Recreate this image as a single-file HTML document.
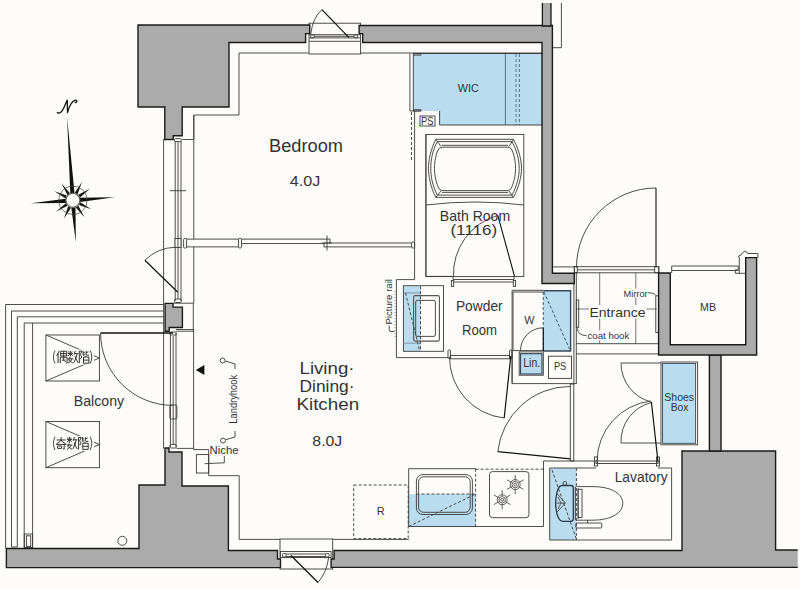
<!DOCTYPE html>
<html><head><meta charset="utf-8">
<style>
html,body{margin:0;padding:0;background:#fdfcfa;width:800px;height:589px;overflow:hidden}
svg{display:block}
text{font-family:"Liberation Sans",sans-serif;fill:#333}
</style></head><body>
<svg width="800" height="589" viewBox="0 0 800 589">
<rect width="800" height="589" fill="#fdfcfa"/>

<!-- blue fills -->
<g fill="#b9dcef" stroke="none">
<path d="M413,53.5 H542 V125 H439.6 V111 H413 Z"/>
</g>

<!-- thin lines -->
<g fill="none" stroke="#3a3a3a" stroke-width="0.9">
<!-- bedroom inner boundary -->
<path d="M239,53 V115 H193.8 V139"/>
<path d="M239,53 H308.7 M360.6,53 H542"/>
<!-- top window -->
<rect x="309" y="23.2" width="51.6" height="30.8"/>
<path d="M309.2,34.7 H360.1 M314.3,36.3 H354 M309.2,37.9 H360.1 M309.2,41.3 H360.1"/>
<rect x="310.7" y="34.9" width="3.6" height="2.9" rx="0.8"/>
<rect x="354" y="34.9" width="3.6" height="2.9" rx="0.8"/>
<path d="M310.7,34.1 Q313,17 321.9,9.7"/>
<!-- left bedroom window -->
<path d="M163.6,139 V303.3 M193.8,115 V303.3"/>
<path d="M175.2,141 V301 M181,141 V301"/>
<rect x="174.5" y="138.6" width="6.8" height="3" rx="1.2"/>
<rect x="174.5" y="299" width="6.8" height="3.5" rx="1.2"/>
<path d="M182.2,139.5 H193.6 M173,303.2 H193.3 M176.3,331.2 H193.3 M193.3,303.2 V331.2"/>
<path d="M170,190.7 H186"/>
<!-- WIC -->
<path d="M409.9,53.5 V111 H420.8 M413.3,53.5 V111"/>
<path d="M505.4,53.5 V125" stroke="#4a6a80"/>
<path d="M516,54 V125 M519.4,54 V125" stroke="#4a6a80" stroke-dasharray="3,2"/>
<path d="M413.3,53.8 H421 V55.2 H413.3 M413.3,109.6 H421 V111 H413.3" stroke-width="0.8"/>
<path d="M413,53.5 H542 M439.6,125 H542 M439.6,111 V125" stroke="#333"/>
<path d="M411.5,112 V162" stroke-dasharray="3,2"/>
<rect x="420" y="116" width="15" height="10"/>
<!-- thin outline right of top wall -->
<path d="M561.4,3 V47.7 H552.4"/>
</g>
<g fill="none" stroke="#111" stroke-width="1.2">
<path d="M321.9,9.7 L349,37.7"/>
<path d="M144.9,260.2 L177.8,292.2"/>
</g>


<!-- partition bedroom/living -->
<g fill="#fdfcfa" stroke="#3a3a3a" stroke-width="0.9">
<rect x="184.5" y="239.1" width="55.5" height="7.8"/>
<rect x="240" y="239.1" width="90" height="4.5"/>
<rect x="324" y="243" width="90" height="3.9"/>
<rect x="183.6" y="238.6" width="3" height="9.4" rx="1"/>
<rect x="238.5" y="238.6" width="3" height="9.4" rx="1"/>
<rect x="411.6" y="242" width="3" height="6" rx="1"/>
<rect x="175" y="238.5" width="6" height="9"/>
<path d="M327,235.5 V250.5 M322,243 H332" fill="none"/>
</g>
<!-- bath room -->
<g fill="none" stroke="#3a3a3a" stroke-width="0.9">
<rect x="426" y="134.4" width="97.8" height="142.2"/>
<path d="M435.8,139.3 H513.5 C519,150 521.5,160 521.5,168.3 C521.5,176.5 519,187 513.5,197.4 H435.8 C430.5,187 428.5,176.5 428.5,168.3 C428.5,160 430.5,150 435.8,139.3 Z"/>
<path d="M437.3,141.6 H512 C517,151 519.2,160 519.2,168.3 C519.2,176.5 517,185.5 512,195.1 H437.3 C432.3,185.5 430.8,176.5 430.8,168.3 C430.8,160 432.3,151 437.3,141.6 Z"/>
<path d="M442,145.3 H508"/>
<path d="M442,147.2 H508 Q511,147.2 512.5,151 C515,158 515.5,163 515.5,168.3 C515.5,173.5 515,178.5 512.5,185.5 Q511,190.6 508,190.6 H442 Q439,190.6 437.5,185.5 C435,178.5 434.5,173.5 434.5,168.3 C434.5,163 435,158 437.5,151 Q439,147.2 442,147.2 Z"/>
<path d="M442,192.4 H508"/>
<path d="M435.8,139.3 L441,146.5 M513.5,139.3 L509,146.5 M435.8,197.4 L441,191 M513.5,197.4 L509,191"/>
<path d="M426,205 A401,401 0 0 1 523.8,205"/>
<path d="M453.5,277 A61,61 0 0 1 497.8,215.4"/>
</g>
<path d="M497.8,215.4 L514.6,276.6" stroke="#111" stroke-width="1.1" fill="none"/>
<!-- picture rail / powder room outline -->
<g fill="none" stroke="#3a3a3a" stroke-width="0.9">
<path d="M414.6,111 V279.6 H396.4 V357.6 H448.2"/>
<path d="M425.8,134.4 V276.4 H452.9"/>
<path d="M453,276.6 V279.5 H514 V276.6 M453.7,282 H513.3"/>
<rect x="451.4" y="280.5" width="2.3" height="5.9"/>
<rect x="513.3" y="280.5" width="2.3" height="5.9"/>
<rect x="450.5" y="355.5" width="59" height="3.3"/>
<rect x="448" y="350" width="2.5" height="8.5" rx="0.8"/>
<rect x="509.5" y="350" width="2.5" height="8.5" rx="0.8"/>
</g>
<!-- vanity -->
<rect x="403.4" y="286.2" width="17.3" height="65" fill="#b9dcef"/>
<g fill="none" stroke="#3a3a3a" stroke-width="0.9">
<rect x="403.4" y="285.7" width="40.1" height="65.6"/>
<rect x="413.6" y="295.6" width="25.8" height="45.5" rx="1.5" stroke="#555" stroke-width="1.1"/>
<rect x="415.7" y="300.4" width="19.7" height="36" rx="1.5"/>
<path d="M403.4,292.9 H420.4 M403.4,343.2 H420.4" stroke="#7a8f9c"/>
<path d="M420.5,286.2 V351.2 M405.5,292.9 L419.7,351.2" stroke-dasharray="3,2"/>
<path d="M389.2,325.8 V330 Q389.2,331.5 391,331.5 H394.6"/>
<path d="M395,291 V339" stroke="#888" stroke-dasharray="1,2"/>
</g>
<text transform="translate(391.6,301.8) rotate(-90)" font-size="9.8" text-anchor="middle" textLength="45.6" lengthAdjust="spacingAndGlyphs">Picture rail</text>
<!-- W closet block -->
<path d="M543.3,290.8 H570.6 V351 H543.3 Z" fill="#b9dcef"/>
<path d="M520.5,353.7 H542 V374 H520.5 Z" fill="#b9dcef"/>
<g fill="none" stroke="#3a3a3a" stroke-width="0.9">
<path d="M512.1,290.3 V383.6 H576.5 M512.1,290.3 H543.3"/>
<path d="M543.3,292 H513 V350.6 H543.3"/>
<rect x="519.2" y="351.9" width="24.1" height="23.3"/>
<rect x="548.5" y="356.2" width="23" height="22.2"/>
<path d="M520.5,350.6 A22.8,22.8 0 0 1 543.3,327.8"/>
</g>
<path d="M543.3,290.8 H570.6 V351 H543.3" fill="none" stroke="#36495a" stroke-width="1.4"/>
<rect x="520.5" y="353.7" width="21.5" height="20.3" fill="none" stroke="#36495a" stroke-width="1.2"/>
<path d="M543.3,292 V350 M543.9,292 L569.5,349" fill="none" stroke="#36495a" stroke-width="0.9" stroke-dasharray="3,2"/>
<path d="M543.3,328 V351" stroke="#111" stroke-width="1.2"/>
<text x="479.3" y="310.5" font-size="14" text-anchor="middle" textLength="46.7" lengthAdjust="spacingAndGlyphs">Powder</text>
<text x="479.5" y="335.4" font-size="14" text-anchor="middle" textLength="35.2" lengthAdjust="spacingAndGlyphs">Room</text>
<text x="529.4" y="323.9" font-size="11.5" text-anchor="middle" textLength="10.2" lengthAdjust="spacingAndGlyphs">W</text>
<text x="531.7" y="367.2" font-size="12" text-anchor="middle" fill="#2a3d4e" textLength="16.8" lengthAdjust="spacingAndGlyphs">Lin.</text>
<text x="560.1" y="370" font-size="10.3" text-anchor="middle" textLength="12.3" lengthAdjust="spacingAndGlyphs">PS</text>
<text x="427.2" y="124.6" font-size="11" text-anchor="middle" textLength="12.5" lengthAdjust="spacingAndGlyphs">PS</text>
<text x="475" y="220.6" font-size="14.3" text-anchor="middle" textLength="70.3" lengthAdjust="spacingAndGlyphs">Bath Room</text>
<text x="473.8" y="234.7" font-size="14.3" text-anchor="middle" textLength="46.8" lengthAdjust="spacingAndGlyphs">(1116)</text>


<!-- entrance -->
<g fill="none" stroke="#3a3a3a" stroke-width="0.9">
<path d="M576.3,272.8 V384 M573.9,283 V384"/>
<path d="M599.7,272.8 V343.7 M635.8,272.8 V343.7 M576.3,309 H656.8" stroke="#666"/>
<path d="M576.3,343.7 H659.8 M576.3,353.9 H659.8"/>
<rect x="574.3" y="266.7" width="84.5" height="6.1"/>
<path d="M577.3,269.8 H654.7 M552.4,266.9 H574.3"/>
<rect x="574.3" y="266.7" width="3" height="6.1"/>
<rect x="654.7" y="266.7" width="4.1" height="6.1"/>
<rect x="655.8" y="295.8" width="3" height="36.7"/>
<rect x="576.3" y="300" width="2.4" height="27.4"/>
<path d="M577.3,328.4 Q578,335.6 586.5,335.6"/>
<path d="M647.6,292.8 Q654,292.5 655.8,295.5"/>
<path d="M576.5,267.5 A79.5,79.5 0 0 1 656,188"/>
<path d="M656,188 V266.7" stroke="#222" stroke-width="1.2"/>
<!-- MB threshold -->
<path d="M671.7,266 H738.5 M671.7,270.5 H738.5"/>
<path d="M738.2,266 V269.9 H735.3 V273.3 H739.3 M671.7,266 V273"/>
<path d="M738.2,257.2 Q738.6,255 740.8,255.2 Q742.5,251.8 744.8,251.4 Q747,251.3 747.6,253.5 H757.9 V258"/>
<path d="M739.3,257 V273.3 H745.2"/>
</g>
<rect x="589" y="305" width="57.5" height="13.5" fill="#fdfcfa"/>
<rect x="623" y="288.5" width="25" height="9" fill="#fdfcfa"/>
<rect x="587" y="330.5" width="43" height="10" fill="#fdfcfa"/>
<text x="617.5" y="316.8" font-size="13.5" text-anchor="middle" textLength="56" lengthAdjust="spacingAndGlyphs">Entrance</text>
<text x="635.6" y="296.5" font-size="9.3" text-anchor="middle" textLength="24" lengthAdjust="spacingAndGlyphs">Mirror</text>
<text x="608.4" y="338.6" font-size="9.7" text-anchor="middle" textLength="41.8" lengthAdjust="spacingAndGlyphs">coat hook</text>
<text x="708" y="310.6" font-size="11.3" text-anchor="middle" textLength="16" lengthAdjust="spacingAndGlyphs">MB</text>
<!-- shoes box -->
<rect x="662.6" y="363.5" width="33" height="79.8" fill="#b9dcef"/>
<g fill="none" stroke="#3a3a3a" stroke-width="0.9">
<rect x="661" y="362" width="36.6" height="82.8"/>
<rect x="662.6" y="363.5" width="33" height="79.8" stroke="#36495a"/>
<path d="M621,363 H661 M621,363 A40,40 0 0 0 651.4,402"/>
<path d="M621,443 H661 M621,443 A40,40 0 0 1 651.4,402.5"/>
<path d="M497.8,451.7 A73,73 0 0 1 570.3,386.4"/>
<rect x="570.3" y="384" width="3.5" height="77"/>
<path d="M449.5,356.6 A61,61 0 0 0 504.2,418"/>
<path d="M512.1,383.6 V350"/>
<path d="M597,461 A61,61 0 0 1 651,401"/>
<rect x="596" y="461" width="62" height="2.5"/>
<rect x="594.5" y="457" width="3" height="9"/>
<rect x="656.5" y="457" width="3" height="9"/>
</g>
<g fill="none" stroke="#111" stroke-width="1.2">
<path d="M504.2,418 L510.8,356"/>
<path d="M497.8,451.7 L570.3,458.9"/>
<path d="M651.4,402 L658,462"/>
</g>
<text x="679.2" y="400.8" font-size="10.5" text-anchor="middle" fill="#2a3d4e" textLength="29.9" lengthAdjust="spacingAndGlyphs">Shoes</text>
<text x="679.5" y="410.7" font-size="10.3" text-anchor="middle" fill="#2a3d4e" textLength="17.7" lengthAdjust="spacingAndGlyphs">Box</text>
<!-- lavatory -->
<path d="M549.7,468 H576.4 V540 H549.7 Z" fill="#b9dcef"/>
<g fill="none" stroke="#3a3a3a" stroke-width="0.9">
<path d="M543.5,461 H596 M658,468 H671.6 V540 H549.7 V468 H596"/>
<path d="M543.5,461 V526.5"/>
<path d="M576.4,468 V540 M552,470 L576,538" stroke-dasharray="3,2"/>
<path d="M576.5,486.6 H592 C614,486.6 622.8,495 622.8,503.3 C622.8,512 613,520.2 592,520.2 H576.5"/>
<path d="M575.4,486.6 V520.2 M578.1,488 V519"/>
<rect x="578.1" y="489.3" width="3.9" height="28.2"/>
<rect x="575.9" y="523" width="25.9" height="5" rx="1"/>
<path d="M587.5,520.2 V523"/>
<path d="M562,485.5 H571 Q573.3,485.5 573.3,488 V518.6 Q573.3,521.3 571,521.3 H562.7 Q556.5,521 555.6,503.4 Q556.5,486 562,485.5 Z" stroke="#2a3a48" stroke-width="1.3"/>
<rect x="563.2" y="481.6" width="3.3" height="3.6" rx="1"/>
<path d="M556.6,493.2 L565.4,503.1 L556.6,512.5 M556.6,503.1 H565.4 M558,497 L561,503 L558,509" stroke-width="0.8"/>
</g>
<text x="641.2" y="482" font-size="14" text-anchor="middle" textLength="53" lengthAdjust="spacingAndGlyphs">Lavatory</text>
<!-- kitchen -->
<path d="M408.7,494 H475.6 V526.5 H408.7 Z" fill="#b9dcef"/>
<g fill="none" stroke="#3a3a3a" stroke-width="0.9">
<path d="M475.6,468.7 H408.7 V526.5 H543.5"/>
<path d="M475.6,469.2 H543.5" stroke-dasharray="3,2"/>
<rect x="416.4" y="474.6" width="56" height="39.9" rx="6.5"/>
<rect x="418.6" y="476.8" width="51.6" height="35.5" rx="5"/>
<path d="M416.5,494 H475.6 M408.7,526.5 L475.6,494 M475.6,468.7 V526.5" stroke-dasharray="3,2"/>
<rect x="489.5" y="471.6" width="39.4" height="46.1" rx="3"/>
<rect x="353.7" y="485" width="54.5" height="53.6" stroke-dasharray="3,2"/>
<path d="M239.2,475.7 V539.4 H280 M333,539.4 H408.7"/>
</g>
<text x="380.7" y="515" font-size="11" text-anchor="middle">R</text>
<g fill="none" stroke="#3a3a3a" stroke-width="0.8">
<circle cx="515.2" cy="484.6" r="5"/><circle cx="515.2" cy="484.6" r="3.2"/><circle cx="515.2" cy="484.6" r="1.4"/><path d="M515.20,480.60 L515.20,475.10 M518.66,482.60 L523.43,479.85 M518.66,486.60 L523.43,489.35 M515.20,488.60 L515.20,494.10 M511.74,486.60 L506.97,489.35 M511.74,482.60 L506.97,479.85"/>
<circle cx="502.2" cy="499.8" r="5"/><circle cx="502.2" cy="499.8" r="3.2"/><circle cx="502.2" cy="499.8" r="1.4"/><path d="M502.20,495.80 L502.20,490.30 M505.66,497.80 L510.43,495.05 M505.66,501.80 L510.43,504.55 M502.20,503.80 L502.20,509.30 M498.74,501.80 L493.97,504.55 M498.74,497.80 L493.97,495.05"/>
</g>


<!-- living left window -->
<g fill="none" stroke="#3a3a3a" stroke-width="0.9">
<path d="M163.6,303.3 V448.6 M193.6,329.5 V448.6 M176,329.5 H193.6"/>
<path d="M170.4,333 V447 M176,333 V447 M173.2,336 V444 M178,142 V299"/>
<rect x="170" y="332" width="6.4" height="3" rx="1.2"/>
<rect x="170" y="444.5" width="6.4" height="3.5" rx="1.2"/>
<path d="M176.3,247.2 A45.5,45.5 0 0 0 144.9,260.2"/>
<rect x="169.9" y="405" width="7" height="14" rx="1.5"/>
<path d="M176.5,448.4 H193.6 V449.6 H208.7 V475.7 H239.2"/>
<rect x="196.4" y="454.6" width="12.3" height="18.4"/>
<path d="M204.6,463.7 L224.3,462.8 V456"/>
<circle cx="223" cy="440.6" r="2.5"/>
<path d="M225.5,439.8 L235,437 V431"/>
<circle cx="222.7" cy="360.5" r="2.5"/>
<path d="M225.2,361 L235,364 V369"/>
</g>
<path d="M195.8,370 L204.4,365 V375 Z" fill="#111"/>
<text x="224" y="453.7" font-size="10.2" text-anchor="middle" textLength="29" lengthAdjust="spacingAndGlyphs">Niche</text>
<text transform="translate(236.5,399.3) rotate(-90)" font-size="10" text-anchor="middle" textLength="48.8" lengthAdjust="spacingAndGlyphs">Landryhook</text>
<text x="327" y="373.6" font-size="16.8" text-anchor="middle" textLength="55" lengthAdjust="spacingAndGlyphs">Living·</text>
<text x="327" y="392" font-size="16.8" text-anchor="middle" textLength="55" lengthAdjust="spacingAndGlyphs">Dining·</text>
<text x="327.8" y="410.3" font-size="16.8" text-anchor="middle" textLength="62.7" lengthAdjust="spacingAndGlyphs">Kitchen</text>
<text x="327.3" y="446" font-size="14" text-anchor="middle" textLength="29.9" lengthAdjust="spacingAndGlyphs">8.0J</text>
<!-- bottom window -->
<g fill="none" stroke="#3a3a3a" stroke-width="0.9">
<rect x="280" y="539" width="52.7" height="30"/>
<rect x="280.5" y="551.5" width="50.6" height="6"/>
<path d="M286,554 H325.6 M286,556.5 H325.6"/>
<rect x="282.5" y="553.5" width="3.5" height="3.5" rx="1"/>
<rect x="325.6" y="553.5" width="3.5" height="3.5" rx="1"/>
<path d="M318,582.5 Q327,572 328.7,556.9"/>
</g>
<path d="M291,555.5 L318,582.5" stroke="#111" stroke-width="1.2"/>
<!-- balcony -->
<g fill="none" stroke="#3a3a3a" stroke-width="0.9">
<path d="M163.6,304.5 H5.6 V548.5"/>
<path d="M163.6,311 H11.5 V547 H17.3 V316.8 H163.6"/>
<path d="M163.6,323 H24.2 V547.5 H32.6 V323"/>
<rect x="24.3" y="534" width="8.3" height="14.5"/>
<rect x="26.4" y="535.8" width="4.3" height="10.6"/>
<rect x="45.9" y="335" width="53.5" height="46"/>
<path d="M45.9,335 L99.4,358 L45.9,381"/>
<rect x="45.9" y="421.5" width="53.5" height="46.2"/>
<path d="M45.9,421.5 L99.4,444.6 L45.9,467.7"/>
<path d="M100.6,333 A72.4,72.4 0 0 0 173,405.4"/>
<circle cx="122.3" cy="540.8" r="4.5"/>
</g>
<path d="M100.6,333 H173" stroke="#111" stroke-width="1.3"/>
<text x="99" y="405.9" font-size="14" text-anchor="middle" textLength="50.4" lengthAdjust="spacingAndGlyphs">Balcony</text>
<!-- compass -->
<g transform="translate(72.9,200.3) rotate(-4)">
<path d="M0,-84 L2.1,-7 L-2.1,-7 Z" fill="#111"/>
<path d="M0,42 L2.1,7 L-2.1,7 Z" fill="#111"/>
<path d="M-42,0 L-7,2.1 L-7,-2.1 Z" fill="#111"/>
<path d="M42,0 L7,2.1 L7,-2.1 Z" fill="#111"/>
<path d="M10.25,-17.75 L5.14,-5.70 L2.36,-7.30 Z M17.75,-10.25 L7.30,-2.36 L5.70,-5.14 Z M17.75,10.25 L5.70,5.14 L7.30,2.36 Z M10.25,17.75 L2.36,7.30 L5.14,5.70 Z M-10.25,17.75 L-5.14,5.70 L-2.36,7.30 Z M-17.75,10.25 L-7.30,2.36 L-5.70,5.14 Z M-17.75,-10.25 L-5.70,-5.14 L-7.30,-2.36 Z M-10.25,-17.75 L-2.36,-7.30 L-5.14,-5.70 Z" fill="#1a1a1a"/>
<circle r="14.2" fill="none" stroke="#444" stroke-width="0.7"/>
<circle r="7" fill="#fdfcfa" stroke="#555" stroke-width="1.1"/>
</g>
<path d="M57.4,112.6 C59.5,114 62,112 64,107.5 L67.2,100.1 L67.5,112.6 C69,107 72,101 75.5,100.2 C77.5,99.8 77.3,102.5 75.3,102.6" fill="none" stroke="#111" stroke-width="1.3" stroke-linecap="round" stroke-linejoin="round"/>


<defs>
<g id="kGu" fill="none" stroke="#333" stroke-width="1">
<path d="M3,0.2 L0.3,5.4 M1.8,3 V12.6"/>
<path d="M4.4,0.6 H10.4 V5.4 H4.4 Z M4.4,3 H10.4 M7.4,0.6 V5.4"/>
<path d="M4,6.6 V12.6 M4,6.6 H10.8 V12.2 L9.8,12.6 M7.4,5.4 V9.6 M5.6,9.6 H9.2 M8.6,10.4 L9.4,11.6"/>
</g>
<g id="kSu" fill="none" stroke="#333" stroke-width="1">
<path d="M2.8,0.2 V6 M0.3,2.8 H5.5 M1,0.8 L1.6,2 M4.6,0.8 L4,2 M2.8,2.8 L0.4,5.4 M2.8,2.8 L5.2,5"/>
<path d="M0.2,8.2 H5.8 M2.6,6.4 L1.2,9.6 Q3.5,11 5.4,12.6 M4.6,8.2 Q3.6,11 0.4,12.6"/>
<path d="M7.8,0.2 L6.6,4 M7,3 H10.8 M9.6,3 Q8.8,8 6.2,12.4 M7.4,5.6 Q9,10 10.8,12.4"/>
</g>
<g id="kKai" fill="none" stroke="#333" stroke-width="1">
<path d="M0.8,0.4 V12.6 M0.8,0.6 H3.4 L1.8,4 Q3.6,5.8 3,7.4 Q2.5,8 1.6,7.6"/>
<path d="M4.6,0.2 V4.6 L6.8,4 M4.6,2.2 H6.4 M7.6,0.2 V4 Q7.6,4.8 10.6,4.6 M7.6,2 L10,1.2"/>
<path d="M7.6,5.2 L7,6.4 M5,6.4 H10.4 V12.6 H5 Z M5,9.5 H10.4"/>
</g>
<g id="kKi" fill="none" stroke="#333" stroke-width="1">
<path d="M1,3.2 H10 M5.5,0.3 V3.2 Q4.5,5.5 1,6.8 M5.5,3.2 Q6.5,5.5 10,6.8"/>
<path d="M0.3,7.6 H10.7 M8.6,7.6 V12.4 L7.4,12 M2,9.2 H6 V11.6 H2 Z"/>
</g>
</defs>
<rect x="51.5" y="349.5" width="42.5" height="15" fill="#fdfcfa"/>
<rect x="51.5" y="436" width="42.5" height="15" fill="#fdfcfa"/>
<g fill="none" stroke="#333" stroke-width="0.9">
<path d="M55,350.5 Q51.8,357 55,363.5 M90.2,350.5 Q93.4,357 90.2,363.5"/>
<path d="M55,436.8 Q51.8,443.4 55,450 M90.2,436.8 Q93.4,443.4 90.2,450"/>
</g>
<use href="#kGu" x="56.3" y="350.6"/>
<use href="#kSu" x="67.5" y="350.6"/>
<use href="#kKai" x="78.5" y="350.6"/>
<use href="#kKi" x="55.6" y="436.8"/>
<use href="#kSu" x="66.6" y="436.8"/>
<use href="#kKai" x="77.8" y="436.8"/>

<!-- walls -->
<g fill="#ababab" stroke="#1a1a1a" stroke-width="1.4" stroke-linejoin="miter">
<path d="M138,25 H309.7 V33.6 H305.6 V42.5 H229 V107 H182.2 V135.7 H173.2 V139.5 H164.8 V107 H138 Z"/>
<path d="M359.1,25.5 H552.4 V273.3 H574.3 V283.5 H542 V42.5 H362.7 V33.6 H359.1 Z"/>
<path d="M165.1,303.4 H173 V307.1 H182.4 V327.5 H169.2 V331.2 H165.1 Z"/>
<path d="M6.4,548.5 H139 V485 H165 V448 H169 V452 H182 V486 H228.4 V550.5 H277.5 V559 H280.5 V567.6 H6.4 Z"/>
<path d="M334.1,550.5 H682 V451 H775.6 V550 H797.7 V567.4 H331.1 V559 H334.1 Z" stroke="none"/>
<path d="M797.7,567.4 H331.1 V559 H334.1 V550.5 H682 V451 H775.6 V550 H797.7" fill="none"/>
<path d="M709.4,355 H721 V451 H709.4 Z"/>
<path d="M658.6,273 H670.3 V344.7 H745.7 V257.6 H756.6 V355 H658.6 Z"/>
</g>
<rect x="542.4" y="3" width="8.6" height="23" fill="#ababab" stroke="none"/>
<path d="M542.4,3 V26 H551 V3" fill="none" stroke="#1a1a1a" stroke-width="1.3"/>

<!-- texts -->
<text x="306" y="151.5" font-size="17.5" text-anchor="middle" textLength="74" lengthAdjust="spacingAndGlyphs">Bedroom</text>
<text x="305" y="186" font-size="14.4" text-anchor="middle" textLength="30.5" lengthAdjust="spacingAndGlyphs">4.0J</text>
<text x="468.2" y="92.2" font-size="11.5" text-anchor="middle" fill="#333" textLength="21" lengthAdjust="spacingAndGlyphs">WIC</text>
</svg>
</body></html>
